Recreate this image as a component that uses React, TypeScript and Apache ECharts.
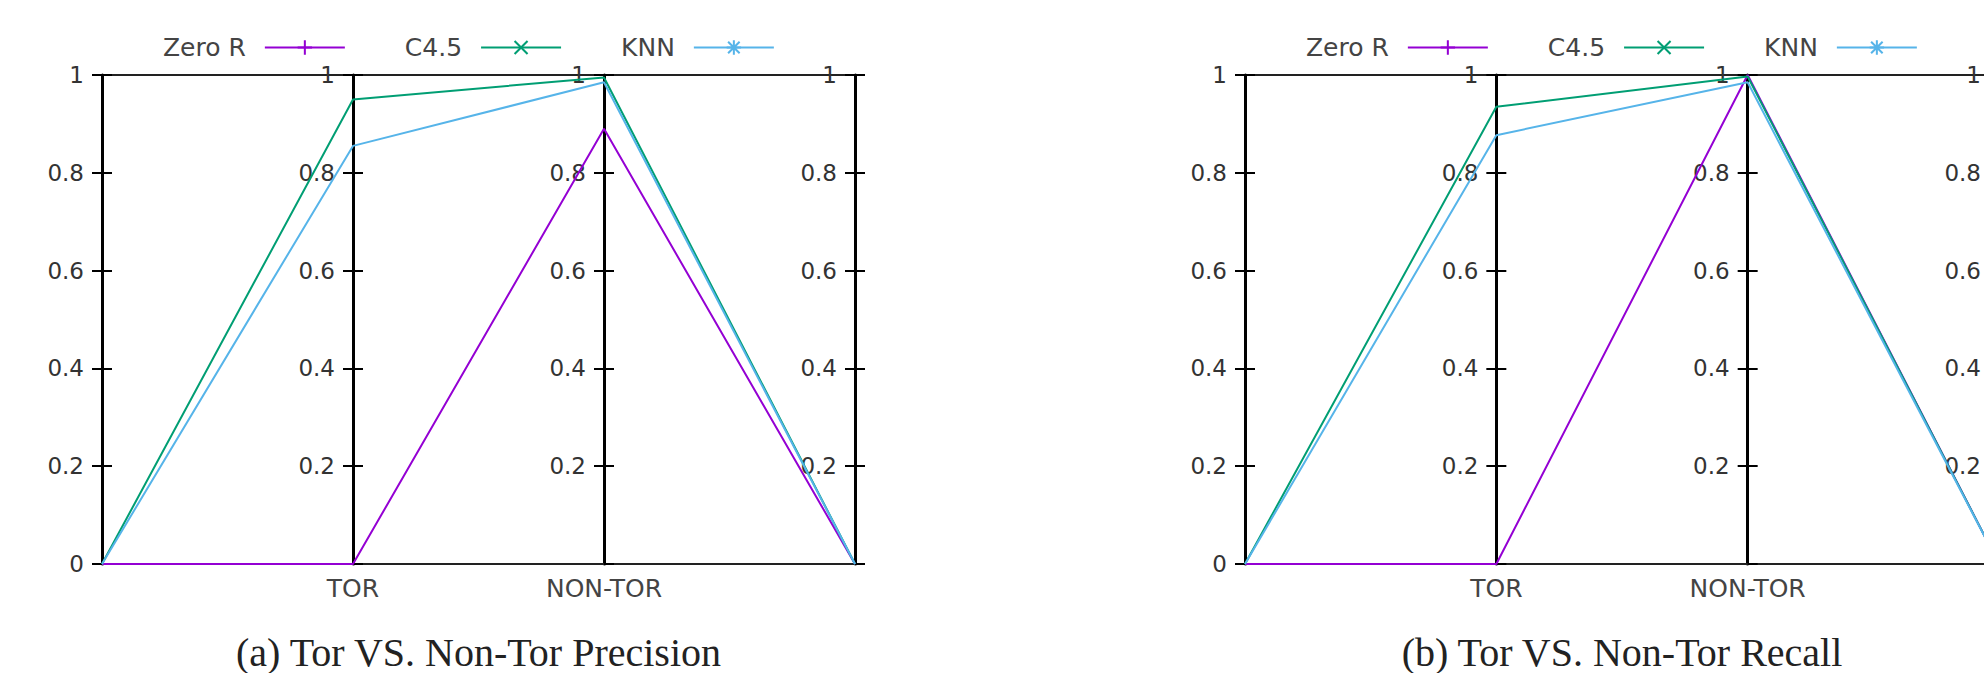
import React, { useEffect, useRef } from 'react';
import * as echarts from 'echarts';

// ---------- data ----------
const axisCategories = ['', 'TOR', 'NON-TOR', ''];
const seriesNames = ['Zero R', 'C4.5', 'KNN'];
const seriesColors = ['#9400d3', '#009e73', '#56b4e9'];

const precisionZeroR = [0, 0, 0.89, 0];
const precisionC45 = [0, 0.95, 0.995, 0];
const precisionKNN = [0, 0.855, 0.985, 0];

const recallZeroR = [0, 0, 1.0, 0];
const recallC45 = [0, 0.935, 0.997, 0];
const recallKNN = [0, 0.877, 0.985, 0];

const yMin = 0;
const yMax = 1;
const yStep = 0.2;

const captions = ['(a) Tor VS. Non-Tor Precision', '(b) Tor VS. Non-Tor Recall'];

// ---------- layout / style ----------
const panels = [
  { left: 102, width: 753, data: [precisionZeroR, precisionC45, precisionKNN], caption: captions[0] },
  { left: 1245, width: 754, data: [recallZeroR, recallC45, recallKNN], caption: captions[1] },
];
const gridTop = 75;
const gridHeight = 489;
const sansFont = 'DejaVu Sans';

const markerSymbols = [
  'path://M0,4.3H10V5.7H0Z M4.3,0H5.7V10H4.3Z',
  'path://M0,1L1,0L10,9L9,10Z M9,0L10,1L1,10L0,9Z',
  'path://M0,4.3H10V5.7H0Z M4.3,0H5.7V10H4.3Z M0.5,1.5L1.5,0.5L9.5,8.5L8.5,9.5Z M8.5,0.5L9.5,1.5L1.5,9.5L0.5,8.5Z',
];

function buildOption() {
  const grid: any[] = [];
  const xAxis: any[] = [];
  const yAxis: any[] = [];
  const series: any[] = [];
  const legend: any[] = [];
  const title: any[] = [];

  panels.forEach((panel, gi) => {
    grid.push({
      left: panel.left,
      top: gridTop,
      width: panel.width,
      height: gridHeight,
      containLabel: false,
      outerBoundsMode: 'none',
    });

    // bottom axis with category names
    xAxis.push({
      type: 'category',
      gridIndex: gi,
      data: axisCategories,
      boundaryGap: false,
      position: 'bottom',
      axisLine: { show: true, onZero: false, lineStyle: { color: '#222', width: 2 } },
      axisTick: { show: false },
      axisLabel: {
        show: true,
        interval: 0,
        margin: 12,
        fontSize: 25,
        fontFamily: sansFont,
        color: '#444',
      },
      splitLine: { show: false },
    });
    // top border
    xAxis.push({
      type: 'category',
      gridIndex: gi,
      data: axisCategories,
      boundaryGap: false,
      position: 'top',
      axisLine: { show: true, onZero: false, lineStyle: { color: '#222', width: 2 } },
      axisTick: { show: false },
      axisLabel: { show: false },
      splitLine: { show: false },
    });

    const step = panel.width / (axisCategories.length - 1);
    axisCategories.forEach((_, p) => {
      // visible axis: line, outer ticks, labels
      yAxis.push({
        type: 'value',
        gridIndex: gi,
        position: 'left',
        offset: -p * step,
        min: yMin,
        max: yMax,
        interval: yStep,
        axisLine: { show: true, onZero: false, lineStyle: { color: '#000', width: 3 } },
        axisTick: { show: true, length: 10, lineStyle: { color: '#000', width: 2 } },
        axisLabel: {
          show: true,
          margin: 18,
          fontSize: 23,
          fontFamily: sansFont,
          color: '#333',
          showMinLabel: p === 0,
        },
        splitLine: { show: false },
      });
      // inner half of crossing ticks
      yAxis.push({
        type: 'value',
        gridIndex: gi,
        position: 'left',
        offset: -p * step,
        min: yMin,
        max: yMax,
        interval: yStep,
        axisLine: { show: false },
        axisTick: { show: true, inside: true, length: 10, lineStyle: { color: '#000', width: 2 } },
        axisLabel: { show: false },
        splitLine: { show: false },
      });
    });

    const yBase = gi * axisCategories.length * 2;
    seriesNames.forEach((name, si) => {
      series.push({
        type: 'line',
        name,
        xAxisIndex: gi * 2,
        yAxisIndex: yBase,
        data: panel.data[si],
        symbol: markerSymbols[si],
        showSymbol: false,
        lineStyle: { color: seriesColors[si], width: 2 },
        itemStyle: { color: seriesColors[si] },
        z: 3 + si,
      });
    });

    legend.push({
      left: panel.left + 61,
      top: 35,
      orient: 'horizontal',
      align: 'right',
      itemWidth: 80,
      itemHeight: 18,
      itemGap: 59,
      selectedMode: false,
      padding: 0,
      textStyle: {
        fontSize: 25,
        fontFamily: sansFont,
        color: '#444',
        padding: [0, 14, 0, 0],
      },
      data: seriesNames,
    });

    title.push({
      text: panel.caption,
      left: panel.left + panel.width / 2,
      top: 632,
      textAlign: 'center',
      padding: 0,
      textStyle: {
        fontFamily: 'Liberation Serif',
        fontSize: 40,
        fontWeight: 'normal',
        color: '#222',
      },
    });
  });

  return {
    animation: false,
    backgroundColor: '#ffffff',
    grid,
    xAxis,
    yAxis,
    series,
    legend,
    title,
  };
}

export default function App() {
  const ref = useRef<HTMLDivElement>(null);

  useEffect(() => {
    document.body.style.margin = '0';
    if (!ref.current) return;
    const chart = echarts.init(ref.current, null, { renderer: 'svg' });
    chart.setOption(buildOption() as any);
    return () => {
      chart.dispose();
    };
  }, []);

  return <div ref={ref} style={{ width: 1984, height: 673, background: '#fff' }} />;
}
